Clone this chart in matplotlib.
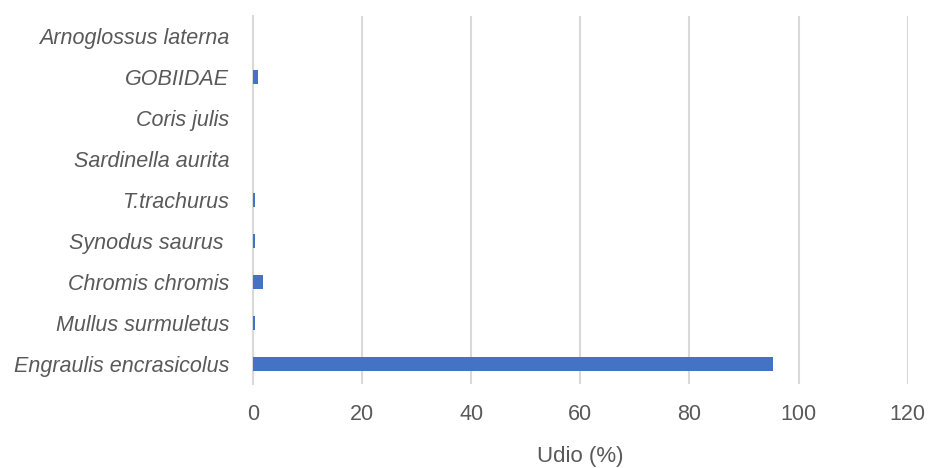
import matplotlib
matplotlib.use("Agg")
import matplotlib.pyplot as plt

species = ["Engraulis encrasicolus", "Mullus surmuletus", "Chromis chromis",
           "Synodus saurus ", "T.trachurus", "Sardinella aurita",
           "Coris julis", "GOBIIDAE", "Arnoglossus laterna"]
udio = [95.3, 0.3, 1.9, 0.3, 0.3, 0.05, 0.05, 1.0, 0.05]
xticks = [0, 20, 40, 60, 80, 100, 120]

plt.rcParams['font.family'] = ['Liberation Sans', 'DejaVu Sans']
fig = plt.figure(figsize=(9.3, 4.68), dpi=100)
ax = fig.add_axes([0.272, 0.179, 0.704, 0.787])

txt = "#595959"
ax.barh(range(len(species)), udio, height=0.35, color="#4472C4", zorder=3)
ax.set_xlim(0, 120)
ax.set_ylim(-0.5, len(species) - 0.5)
ax.set_xticks(xticks)
ax.set_xticklabels([str(t) for t in xticks], fontsize=15.5, color=txt)
ax.set_yticks(range(len(species)))
ax.set_yticklabels(species, fontsize=15.5, color=txt, style="italic")
ax.grid(axis="x", color="#D9D9D9", linewidth=1.5, zorder=0)
for s in ["top", "right", "bottom"]:
    ax.spines[s].set_visible(False)
ax.spines["left"].set_color("#D9D9D9")
ax.spines["left"].set_linewidth(1.5)
ax.tick_params(axis="x", length=0, pad=14)
ax.tick_params(axis="y", length=0, pad=17)
ax.set_xlabel("Udio (%)", fontsize=16, color=txt, labelpad=15)

fig.savefig("out.png", dpi=100)
